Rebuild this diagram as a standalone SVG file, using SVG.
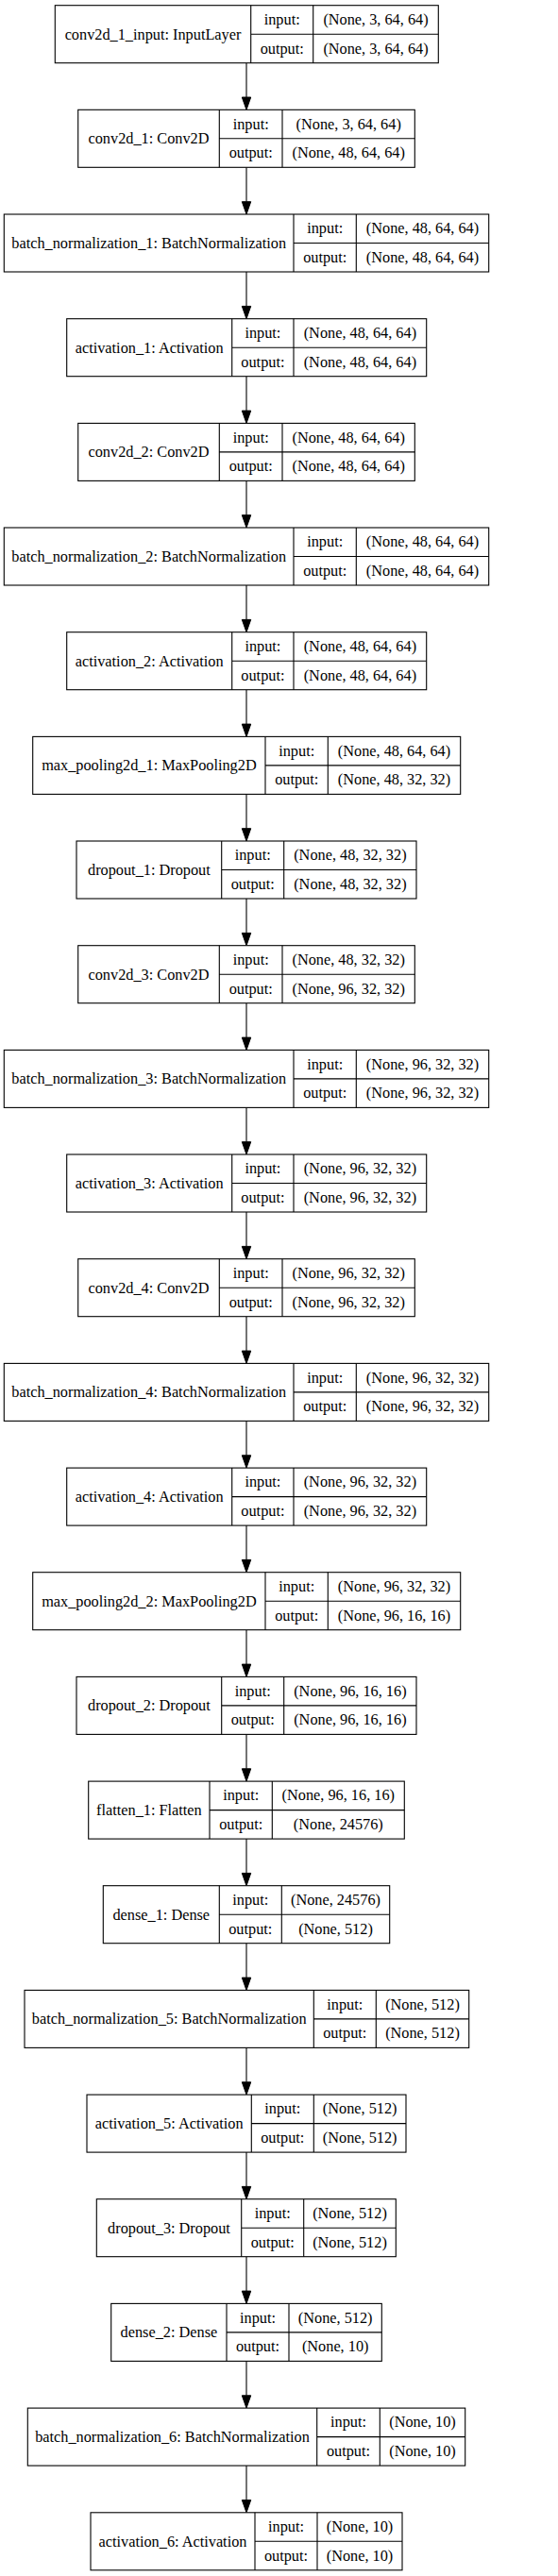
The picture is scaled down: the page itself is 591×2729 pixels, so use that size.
<svg xmlns="http://www.w3.org/2000/svg" width="591" height="2729" viewBox="0 0 591 2729">
<style>
.b{fill:#fff;stroke:#000;stroke-width:1.1}
.d{stroke:#000;stroke-width:1.1;fill:none}
text{font-family:"Liberation Serif","Times New Roman",serif;font-size:16.3px;fill:#000;text-anchor:middle}
.e{stroke:#000;stroke-width:1.1;fill:none;marker-end:url(#ah)}
</style>
<defs>
<marker id="ah" markerUnits="userSpaceOnUse" markerWidth="14" markerHeight="10" refX="0" refY="4.7" orient="auto" overflow="visible">
<path d="M0,0 L13.3,4.7 L0,9.4 Z" fill="#000" stroke="#000" stroke-width="1"/>
</marker>
</defs>
<rect width="591" height="2729" fill="#fff"/>
<g id="edges">
<path class="e" d="M261,66.7 V103"/>
<path class="e" d="M261,177.3 V213.7"/>
<path class="e" d="M261,288 V324.4"/>
<path class="e" d="M261,398.7 V435.1"/>
<path class="e" d="M261,509.4 V545.7"/>
<path class="e" d="M261,620 V656.4"/>
<path class="e" d="M261,730.7 V767.1"/>
<path class="e" d="M261,841.4 V877.7"/>
<path class="e" d="M261,952 V988.4"/>
<path class="e" d="M261,1062.7 V1099.1"/>
<path class="e" d="M261,1173.4 V1209.7"/>
<path class="e" d="M261,1284 V1320.4"/>
<path class="e" d="M261,1394.7 V1431.1"/>
<path class="e" d="M261,1505.4 V1541.8"/>
<path class="e" d="M261,1616.1 V1652.4"/>
<path class="e" d="M261,1726.7 V1763.1"/>
<path class="e" d="M261,1837.4 V1873.8"/>
<path class="e" d="M261,1948.1 V1984.4"/>
<path class="e" d="M261,2058.7 V2095.1"/>
<path class="e" d="M261,2169.4 V2205.8"/>
<path class="e" d="M261,2280.1 V2316.4"/>
<path class="e" d="M261,2390.7 V2427.1"/>
<path class="e" d="M261,2501.4 V2537.8"/>
<path class="e" d="M261,2612.1 V2648.5"/>
</g>
<g id="n0"><rect class="b" x="58.3" y="5.7" width="406" height="61"/><path class="d" d="M265.7,5.7 V66.7 M331.7,5.7 V66.7 M265.7,36.2 H464.3"/><text x="162" y="41.7">conv2d_1_input: InputLayer</text><text x="298.7" y="26">input:</text><text x="298.7" y="56.5">output:</text><text x="398" y="26">(None, 3, 64, 64)</text><text x="398" y="56.5">(None, 3, 64, 64)</text></g>
<g id="n1"><rect class="b" x="82.7" y="116.3" width="356.6" height="61"/><path class="d" d="M232.3,116.3 V177.3 M299,116.3 V177.3 M232.3,146.8 H439.3"/><text x="157.5" y="152.3">conv2d_1: Conv2D</text><text x="265.7" y="136.6">input:</text><text x="265.7" y="167.1">output:</text><text x="369.2" y="136.6">(None, 3, 64, 64)</text><text x="369.2" y="167.1">(None, 48, 64, 64)</text></g>
<g id="n2"><rect class="b" x="4.3" y="227" width="513.4" height="61"/><path class="d" d="M311,227 V288 M377.3,227 V288 M311,257.5 H517.7"/><text x="157.7" y="263">batch_normalization_1: BatchNormalization</text><text x="344.2" y="247.3">input:</text><text x="344.2" y="277.8">output:</text><text x="447.5" y="247.3">(None, 48, 64, 64)</text><text x="447.5" y="277.8">(None, 48, 64, 64)</text></g>
<g id="n3"><rect class="b" x="70.7" y="337.7" width="381" height="61"/><path class="d" d="M245.7,337.7 V398.7 M311,337.7 V398.7 M245.7,368.2 H451.7"/><text x="158.2" y="373.7">activation_1: Activation</text><text x="278.4" y="358">input:</text><text x="278.4" y="388.5">output:</text><text x="381.4" y="358">(None, 48, 64, 64)</text><text x="381.4" y="388.5">(None, 48, 64, 64)</text></g>
<g id="n4"><rect class="b" x="82.7" y="448.4" width="356.6" height="61"/><path class="d" d="M232.3,448.4 V509.4 M299,448.4 V509.4 M232.3,478.9 H439.3"/><text x="157.5" y="484.4">conv2d_2: Conv2D</text><text x="265.7" y="468.7">input:</text><text x="265.7" y="499.2">output:</text><text x="369.2" y="468.7">(None, 48, 64, 64)</text><text x="369.2" y="499.2">(None, 48, 64, 64)</text></g>
<g id="n5"><rect class="b" x="4.3" y="559" width="513.4" height="61"/><path class="d" d="M311,559 V620 M377.3,559 V620 M311,589.5 H517.7"/><text x="157.7" y="595">batch_normalization_2: BatchNormalization</text><text x="344.2" y="579.3">input:</text><text x="344.2" y="609.8">output:</text><text x="447.5" y="579.3">(None, 48, 64, 64)</text><text x="447.5" y="609.8">(None, 48, 64, 64)</text></g>
<g id="n6"><rect class="b" x="70.7" y="669.7" width="381" height="61"/><path class="d" d="M245.7,669.7 V730.7 M311,669.7 V730.7 M245.7,700.2 H451.7"/><text x="158.2" y="705.7">activation_2: Activation</text><text x="278.4" y="690">input:</text><text x="278.4" y="720.5">output:</text><text x="381.4" y="690">(None, 48, 64, 64)</text><text x="381.4" y="720.5">(None, 48, 64, 64)</text></g>
<g id="n7"><rect class="b" x="34.7" y="780.4" width="453" height="61"/><path class="d" d="M281,780.4 V841.4 M347.3,780.4 V841.4 M281,810.9 H487.7"/><text x="157.9" y="816.4">max_pooling2d_1: MaxPooling2D</text><text x="314.2" y="800.7">input:</text><text x="314.2" y="831.2">output:</text><text x="417.5" y="800.7">(None, 48, 64, 64)</text><text x="417.5" y="831.2">(None, 48, 32, 32)</text></g>
<g id="n8"><rect class="b" x="81" y="891" width="360" height="61"/><path class="d" d="M234.7,891 V952 M300.7,891 V952 M234.7,921.5 H441"/><text x="157.9" y="927">dropout_1: Dropout</text><text x="267.7" y="911.3">input:</text><text x="267.7" y="941.8">output:</text><text x="370.9" y="911.3">(None, 48, 32, 32)</text><text x="370.9" y="941.8">(None, 48, 32, 32)</text></g>
<g id="n9"><rect class="b" x="82.7" y="1001.7" width="356.6" height="61"/><path class="d" d="M232.3,1001.7 V1062.7 M299,1001.7 V1062.7 M232.3,1032.2 H439.3"/><text x="157.5" y="1037.7">conv2d_3: Conv2D</text><text x="265.7" y="1022">input:</text><text x="265.7" y="1052.5">output:</text><text x="369.2" y="1022">(None, 48, 32, 32)</text><text x="369.2" y="1052.5">(None, 96, 32, 32)</text></g>
<g id="n10"><rect class="b" x="4.3" y="1112.4" width="513.4" height="61"/><path class="d" d="M311,1112.4 V1173.4 M377.3,1112.4 V1173.4 M311,1142.9 H517.7"/><text x="157.7" y="1148.4">batch_normalization_3: BatchNormalization</text><text x="344.2" y="1132.7">input:</text><text x="344.2" y="1163.2">output:</text><text x="447.5" y="1132.7">(None, 96, 32, 32)</text><text x="447.5" y="1163.2">(None, 96, 32, 32)</text></g>
<g id="n11"><rect class="b" x="70.7" y="1223" width="381" height="61"/><path class="d" d="M245.7,1223 V1284 M311,1223 V1284 M245.7,1253.5 H451.7"/><text x="158.2" y="1259">activation_3: Activation</text><text x="278.4" y="1243.3">input:</text><text x="278.4" y="1273.8">output:</text><text x="381.4" y="1243.3">(None, 96, 32, 32)</text><text x="381.4" y="1273.8">(None, 96, 32, 32)</text></g>
<g id="n12"><rect class="b" x="82.7" y="1333.7" width="356.6" height="61"/><path class="d" d="M232.3,1333.7 V1394.7 M299,1333.7 V1394.7 M232.3,1364.2 H439.3"/><text x="157.5" y="1369.7">conv2d_4: Conv2D</text><text x="265.7" y="1354">input:</text><text x="265.7" y="1384.5">output:</text><text x="369.2" y="1354">(None, 96, 32, 32)</text><text x="369.2" y="1384.5">(None, 96, 32, 32)</text></g>
<g id="n13"><rect class="b" x="4.3" y="1444.4" width="513.4" height="61"/><path class="d" d="M311,1444.4 V1505.4 M377.3,1444.4 V1505.4 M311,1474.9 H517.7"/><text x="157.7" y="1480.4">batch_normalization_4: BatchNormalization</text><text x="344.2" y="1464.7">input:</text><text x="344.2" y="1495.2">output:</text><text x="447.5" y="1464.7">(None, 96, 32, 32)</text><text x="447.5" y="1495.2">(None, 96, 32, 32)</text></g>
<g id="n14"><rect class="b" x="70.7" y="1555.1" width="381" height="61"/><path class="d" d="M245.7,1555.1 V1616.1 M311,1555.1 V1616.1 M245.7,1585.6 H451.7"/><text x="158.2" y="1591.1">activation_4: Activation</text><text x="278.4" y="1575.4">input:</text><text x="278.4" y="1605.9">output:</text><text x="381.4" y="1575.4">(None, 96, 32, 32)</text><text x="381.4" y="1605.9">(None, 96, 32, 32)</text></g>
<g id="n15"><rect class="b" x="34.7" y="1665.7" width="453" height="61"/><path class="d" d="M281,1665.7 V1726.7 M347.3,1665.7 V1726.7 M281,1696.2 H487.7"/><text x="157.9" y="1701.7">max_pooling2d_2: MaxPooling2D</text><text x="314.2" y="1686">input:</text><text x="314.2" y="1716.5">output:</text><text x="417.5" y="1686">(None, 96, 32, 32)</text><text x="417.5" y="1716.5">(None, 96, 16, 16)</text></g>
<g id="n16"><rect class="b" x="81" y="1776.4" width="360" height="61"/><path class="d" d="M234.7,1776.4 V1837.4 M300.7,1776.4 V1837.4 M234.7,1806.9 H441"/><text x="157.9" y="1812.4">dropout_2: Dropout</text><text x="267.7" y="1796.7">input:</text><text x="267.7" y="1827.2">output:</text><text x="370.9" y="1796.7">(None, 96, 16, 16)</text><text x="370.9" y="1827.2">(None, 96, 16, 16)</text></g>
<g id="n17"><rect class="b" x="93.7" y="1887.1" width="334.6" height="61"/><path class="d" d="M222,1887.1 V1948.1 M288.3,1887.1 V1948.1 M222,1917.6 H428.3"/><text x="157.9" y="1923.1">flatten_1: Flatten</text><text x="255.2" y="1907.4">input:</text><text x="255.2" y="1937.9">output:</text><text x="358.3" y="1907.4">(None, 96, 16, 16)</text><text x="358.3" y="1937.9">(None, 24576)</text></g>
<g id="n18"><rect class="b" x="109.3" y="1997.7" width="303.4" height="61"/><path class="d" d="M232.3,1997.7 V2058.7 M298.3,1997.7 V2058.7 M232.3,2028.2 H412.7"/><text x="170.8" y="2033.7">dense_1: Dense</text><text x="265.3" y="2018">input:</text><text x="265.3" y="2048.5">output:</text><text x="355.5" y="2018">(None, 24576)</text><text x="355.5" y="2048.5">(None, 512)</text></g>
<g id="n19"><rect class="b" x="26" y="2108.4" width="470.7" height="61"/><path class="d" d="M332.3,2108.4 V2169.4 M398.3,2108.4 V2169.4 M332.3,2138.9 H496.7"/><text x="179.2" y="2144.4">batch_normalization_5: BatchNormalization</text><text x="365.3" y="2128.7">input:</text><text x="365.3" y="2159.2">output:</text><text x="447.5" y="2128.7">(None, 512)</text><text x="447.5" y="2159.2">(None, 512)</text></g>
<g id="n20"><rect class="b" x="92" y="2219.1" width="338" height="61"/><path class="d" d="M266.3,2219.1 V2280.1 M332.3,2219.1 V2280.1 M266.3,2249.6 H430"/><text x="179.2" y="2255.1">activation_5: Activation</text><text x="299.3" y="2239.4">input:</text><text x="299.3" y="2269.9">output:</text><text x="381.2" y="2239.4">(None, 512)</text><text x="381.2" y="2269.9">(None, 512)</text></g>
<g id="n21"><rect class="b" x="102.3" y="2329.7" width="317" height="61"/><path class="d" d="M255.7,2329.7 V2390.7 M321.7,2329.7 V2390.7 M255.7,2360.2 H419.3"/><text x="179" y="2365.7">dropout_3: Dropout</text><text x="288.7" y="2350">input:</text><text x="288.7" y="2380.5">output:</text><text x="370.5" y="2350">(None, 512)</text><text x="370.5" y="2380.5">(None, 512)</text></g>
<g id="n22"><rect class="b" x="117.7" y="2440.4" width="286.6" height="61"/><path class="d" d="M240,2440.4 V2501.4 M306,2440.4 V2501.4 M240,2470.9 H404.3"/><text x="178.9" y="2476.4">dense_2: Dense</text><text x="273" y="2460.7">input:</text><text x="273" y="2491.2">output:</text><text x="355.2" y="2460.7">(None, 512)</text><text x="355.2" y="2491.2">(None, 10)</text></g>
<g id="n23"><rect class="b" x="29.3" y="2551.1" width="463.4" height="61"/><path class="d" d="M335.7,2551.1 V2612.1 M402.3,2551.1 V2612.1 M335.7,2581.6 H492.7"/><text x="182.5" y="2587.1">batch_normalization_6: BatchNormalization</text><text x="369" y="2571.4">input:</text><text x="369" y="2601.9">output:</text><text x="447.5" y="2571.4">(None, 10)</text><text x="447.5" y="2601.9">(None, 10)</text></g>
<g id="n24"><rect class="b" x="96" y="2661.8" width="330" height="61"/><path class="d" d="M270,2661.8 V2722.8 M336,2661.8 V2722.8 M270,2692.3 H426"/><text x="183" y="2697.8">activation_6: Activation</text><text x="303" y="2682.1">input:</text><text x="303" y="2712.6">output:</text><text x="381" y="2682.1">(None, 10)</text><text x="381" y="2712.6">(None, 10)</text></g>
</svg>
